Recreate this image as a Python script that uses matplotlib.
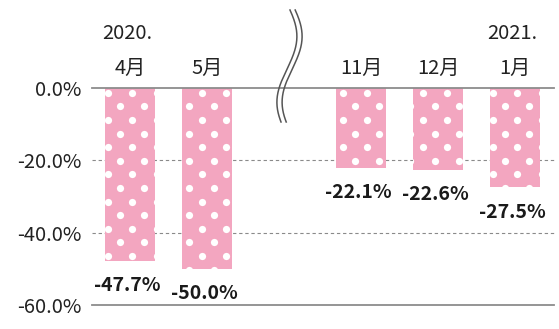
#!/usr/bin/env python3
"""Monthly change bar chart with polka-dot bars and an axis break."""

import matplotlib
import numpy as np

matplotlib.use("Agg")
import matplotlib.pyplot as plt

plt.rcParams["font.family"] = ["Noto Sans CJK JP", "DejaVu Sans"]

# data
MONTHS = ["4月", "5月", "11月", "12月", "1月"]
YEAR_LABELS = ["2020.", "", "", "", "2021."]
CHANGE_PCT = [-47.7, -50.0, -22.1, -22.6, -27.5]
Y_TICKS = [0, -20, -40, -60]

# layout
BREAK_AFTER = 2          # bars after this index shift right by one slot
BAR_WIDTH = 0.66
PINK = "#f3a6c0"
DOT_PHASE = [3, 20, 7, 10, 3]   # px, horizontal pattern phase per bar

W, H, DPI = 559, 329, 100
AX_LEFT, AX_RIGHT, AX_TOP, AX_BOTTOM = 91.5, 553.5, 88, 305  # px
PX_PER_X = (AX_RIGHT - AX_LEFT) / 6.0
PX_PER_Y = (AX_BOTTOM - AX_TOP) / 60.0

fig = plt.figure(figsize=(W / DPI, H / DPI), dpi=DPI)
ax = fig.add_axes([AX_LEFT / W, 1 - AX_BOTTOM / H,
                   (AX_RIGHT - AX_LEFT) / W, (AX_BOTTOM - AX_TOP) / H])
ax.set_xlim(-0.5, 5.5)
ax.set_ylim(-60, 0)

xs = [i if i < BREAK_AFTER else i + 1 for i in range(len(MONTHS))]

# gridlines
for v in Y_TICKS:
    solid = v in (0, -60)
    ax.axhline(v, color="#8c8c8c" if solid else "#8a8a8a",
               lw=1.3 if solid else 0.8, ls="-" if solid else (0, (3, 2.5)),
               zorder=1 if not solid else 4, clip_on=False)

bars = ax.bar(xs, CHANGE_PCT, width=BAR_WIDTH, color=PINK, zorder=2, linewidth=0)

# polka dots clipped to each bar
for bar, phase in zip(bars, DOT_PHASE):
    x0 = bar.get_x()
    bottom = bar.get_height()
    pts_x, pts_y = [], []
    row = 0
    y_px = 4.7
    while y_px < -bottom * PX_PER_Y + 8:
        off = phase + (12.25 if row % 2 else 0)
        for k in range(-1, 4):
            px = off + k * 24.5
            pts_x.append(x0 + px / PX_PER_X)
            pts_y.append(-y_px / PX_PER_Y)
        y_px += 13.6
        row += 1
    sc = ax.scatter(pts_x, pts_y, s=27, color="white", linewidths=0, zorder=3)
    sc.set_clip_path(bar)

# value labels
for x, v in zip(xs, CHANGE_PCT):
    ax.annotate(f"{v:.1f}%", (x, v), xytext=(-2, -11), textcoords="offset points",
                ha="center", va="top", fontsize=14, fontweight="bold", color="#1a1a1a")

# month / year labels above the axis
for x, m, yr in zip(xs, MONTHS, YEAR_LABELS):
    ax.annotate(m, (x, 0), xytext=(0, 14), textcoords="offset points",
                ha="center", va="center", fontsize=14.5, color="#222222", annotation_clip=False)
    if yr:
        ax.annotate(yr, (x, 0), xytext=(-2, 39), textcoords="offset points",
                    ha="center", va="center", fontsize=14.5, color="#222222", annotation_clip=False)

# axis break symbol (double wavy line)
t = np.linspace(0, 1, 200)
y_px = 10 + 112 * t
x_px = 289.5 - 130 + 10 * np.sin(2 * np.pi * (t * 0.85 + 0.05))
for dx in (-2.6, 2.6):
    ax.plot((x_px + dx) / PX_PER_X, -(y_px - AX_TOP) / PX_PER_Y,
            color="#555555", lw=1.1, clip_on=False, zorder=5)

ax.set_yticks(Y_TICKS)
ax.set_yticklabels([f"{v:.1f}%" for v in Y_TICKS], fontsize=14.5, color="#222222")
ax.tick_params(axis="y", length=0, pad=7)
ax.set_xticks([])
for s in ax.spines.values():
    s.set_visible(False)

fig.savefig("out.png", dpi=DPI)
